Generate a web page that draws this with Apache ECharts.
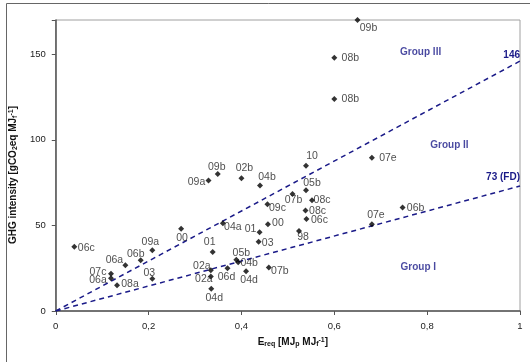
<!DOCTYPE html>
<html lang="en">
<head>
  <meta charset="UTF-8">
  <script src="https://cdn.jsdelivr.net/npm/echarts@6/dist/echarts.min.js"></script>
  <style>
    html, body { margin: 0; padding: 0; background: #fff; }
    #container { width: 530px; height: 362px; }
  </style>
</head>
<body>
  <div id="container"></div>
  <script>
    // point codes, energy requirement (x) and GHG intensity (y)
    var codes = ['09b', '08b', '08b', '10', '07e', '09b', '02b', '09a', '04b', '05b',
      '07b', '08c', '09c', '08c', '06c', '04a', '00', '01', '98', '03',
      '07e', '06b', '07b', '06c', '00', '09a', '06b', '06a', '07c', '06a',
      '08a', '03', '01', '05b', '04b', '02a', '02a', '06d', '04d', '04d'];
    var ereq = [0.650, 0.600, 0.600, 0.539, 0.681, 0.349, 0.400, 0.329, 0.440, 0.539,
      0.510, 0.552, 0.456, 0.538, 0.540, 0.360, 0.457, 0.439, 0.524, 0.437,
      0.681, 0.747, 0.459, 0.040, 0.270, 0.208, 0.183, 0.150, 0.119, 0.119,
      0.132, 0.208, 0.338, 0.389, 0.393, 0.334, 0.334, 0.370, 0.410, 0.335];
    var ghg = [170.0, 148.0, 123.8, 84.8, 89.5, 80.1, 77.6, 76.2, 73.3, 70.6,
      68.4, 64.7, 62.4, 58.7, 53.8, 51.3, 50.7, 46.0, 46.8, 40.5,
      50.7, 60.4, 25.4, 37.6, 48.1, 35.5, 29.6, 26.7, 21.8, 19.1,
      15.0, 18.9, 34.5, 30.0, 28.5, 23.8, 20.1, 25.0, 23.2, 13.0];

    // group boundary lines (x from 0 to 1)
    var boundaryX = [0, 1];
    var upperLine = [0, 146];
    var lowerLine = [0, 73];

    // group annotations
    var groupNames = ['Group III', 'Group II', 'Group I'];
    var groupX = [0.786, 0.848, 0.781];
    var groupY = [151.3, 96.6, 25.3];

    var xTicks = [0, 0.2, 0.4, 0.6, 0.8, 1];
    var yTicks = [0, 50, 100, 150];

    // label offsets (px) of each code from its point
    var labelOffsets = [[11, 8], [16, 0], [16, 0], [6, -10], [16, 0], [-1, -7], [3, -10], [-12, 2], [7, -8], [6, -7],
      [1, 6], [10, 0], [10, 4], [12, 1], [13, 1], [10, 4], [10, -1], [-9, -3], [4, 6], [9, 1],
      [4, -9], [13, 0], [11, 4], [12, 1], [1, 9], [-2, -8], [-5, -6], [-11, -5], [-13, -2], [-13, 2],
      [13, -1], [-3, -6], [-3, -10], [5, -7], [11, 1], [-9, -4], [-7, 3], [-1, 9], [3, 9], [3, 9]];

    var font = 'Liberation Sans, Arial, sans-serif';
    var navy = '#1a1a88';
    var symSize = 6;
    var chart = echarts.init(document.getElementById('container'));

    var points = codes.map(function (c, i) {
      return {
        name: c,
        value: [ereq[i], ghg[i]],
        label: { position: [symSize / 2 + labelOffsets[i][0], symSize / 2 + labelOffsets[i][1]] }
      };
    });

    var groupData = groupNames.map(function (g, i) {
      return { name: g, value: [groupX[i], groupY[i]] };
    });

    function lineData(ys, text, dist) {
      return boundaryX.map(function (x, i) {
        var d = { value: [x, ys[i]], label: { show: false } };
        if (i === boundaryX.length - 1) {
          d.label = {
            show: true, formatter: text, position: 'top', align: 'right',
            distance: dist, color: navy, fontWeight: 'bold', fontSize: 10, fontFamily: font
          };
        }
        return d;
      });
    }

    var subStyles = {
      sub: { fontSize: 7, fontWeight: 'bold', fontFamily: font, color: '#111', verticalAlign: 'bottom', padding: [4, 0, 0, 0] },
      sup: { fontSize: 7, fontWeight: 'bold', fontFamily: font, color: '#111', verticalAlign: 'top', padding: [0, 0, 4, 0] }
    };

    var option = {
      animation: false,
      backgroundColor: '#fff',
      grid: { left: 47, right: 10, top: 20, bottom: 51, show: true, borderColor: '#a0a0a0', borderWidth: 1 },
      graphic: [{
        type: 'rect', silent: true,
        shape: { x: 6.5, y: 3.5, width: 600, height: 600 },
        style: { fill: 'none', stroke: '#666', lineWidth: 1 }
      }],
      xAxis: {
        type: 'value', min: 0, max: 1, interval: 0.2,
        splitLine: { show: false },
        axisLine: { lineStyle: { color: '#555', width: 1.5 } },
        axisTick: { show: true, length: 4, lineStyle: { color: '#555' } },
        axisLabel: {
          fontSize: 9.5, color: '#222', fontFamily: font, margin: 10,
          formatter: function (v) { return xTicks.indexOf(Math.round(v * 10) / 10) >= 0 ? String(Math.round(v * 10) / 10).replace('.', ',') : ''; }
        },
        name: 'E{sub|req} [MJ{sub|p} MJ{sub|f}{sup|-1}]',
        nameLocation: 'middle', nameGap: 26,
        nameTextStyle: { fontSize: 10, fontWeight: 'bold', color: '#111', fontFamily: font, padding: [0, 0, 0, 10], rich: subStyles }
      },
      yAxis: {
        type: 'value', min: 0, max: 170, interval: 50,
        splitLine: { show: false },
        axisLine: { show: true, lineStyle: { color: '#555', width: 1.5 } },
        axisTick: { show: true, length: 4, lineStyle: { color: '#555' } },
        axisLabel: {
          fontSize: 9.5, color: '#222', fontFamily: font, margin: 10,
          formatter: function (v) { return yTicks.indexOf(v) >= 0 ? String(v) : ''; }
        },
        name: 'GHG intensity [gCO{sub|2}eq MJ{sub|f}{sup|-1}]',
        nameLocation: 'middle', nameGap: 25, nameRotate: 90,
        nameTextStyle: { fontSize: 10, fontWeight: 'bold', color: '#111', fontFamily: font, padding: [0, 19, 0, 0], rich: subStyles }
      },
      series: [
        {
          type: 'line', silent: true, symbol: 'circle', symbolSize: 0, showSymbol: true, z: 2,
          lineStyle: { color: navy, width: 1.5, type: [5, 4] },
          itemStyle: { color: navy },
          data: lineData(upperLine, '146', 1)
        },
        {
          type: 'line', silent: true, symbol: 'circle', symbolSize: 0, showSymbol: true, z: 2,
          lineStyle: { color: navy, width: 1.5, type: [5, 4] },
          itemStyle: { color: navy },
          data: lineData(lowerLine, '73 (FD)', 4)
        },
        {
          type: 'scatter', z: 3, symbol: 'diamond', symbolSize: symSize,
          itemStyle: { color: '#000' },
          label: {
            show: true, formatter: '{b}', align: 'center', verticalAlign: 'middle',
            fontSize: 10.5, color: '#222', fontFamily: font
          },
          data: points
        },
        {
          type: 'scatter', silent: true, symbolSize: 0,
          label: {
            show: true, position: 'inside', formatter: '{b}',
            fontSize: 10, fontWeight: 'bold', color: navy, fontFamily: font
          },
          data: groupData
        }
      ]
    };

    chart.setOption(option);
  </script>
</body>
</html>
